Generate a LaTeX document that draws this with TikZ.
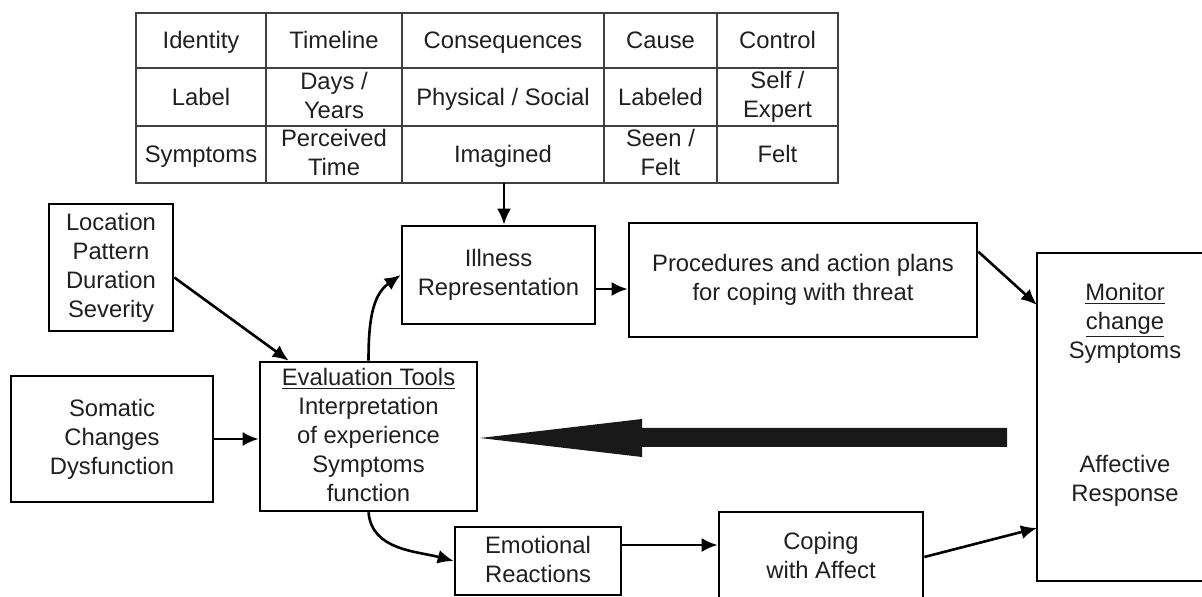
\documentclass[tikz,border=0pt]{standalone}
\usepackage{fontspec}
\setmainfont{Liberation Sans}
\usetikzlibrary{arrows.meta, positioning}
\newcommand{\htstrut}{\rule{0pt}{10.5pt}}
\newcommand{\dpstrut}{\rule[-2.1pt]{0pt}{2.1pt}}

\begin{document}
\begin{tikzpicture}[x=0.5pt, y=-0.5pt, every node/.style={font=\fontsize{11.9}{14.5}\selectfont, text=black!88, align=center, execute at begin node=\htstrut, execute at end node=\dpstrut}]

    \useasboundingbox (0,0) rectangle (1202,597);

    % --- 1. Tabelle oben (Raster und Einträge) ---
    \tikzset{tabline/.style={black!75, line width=0.8pt}}
    \draw[tabline] (136,13) rectangle (838,183);
    \foreach \xx in {266,402,604,717} \draw[tabline] (\xx,13) -- (\xx,183);
    \foreach \yy in {68,126} \draw[tabline] (136,\yy) -- (838,\yy);

    \node (t-ident) at (201,40.5) {Identity};
    \node (t-time)  at (334,40.5) {Timeline};
    \node (t-cons)  at (503,40.5) {Consequences};
    \node (t-cause) at (660.5,40.5) {Cause};
    \node (t-ctrl)  at (777.5,40.5) {Control};

    \node (t-label) at (201,97) {Label};
    \node (t-days)  at (334,97) {Days /\\Years};
    \node (t-phys)  at (503,97) {Physical / Social};
    \node (t-lab)   at (660.5,97) {Labeled};
    \node (t-self)  at (777.5,97) {Self /\\Expert};

    \node (t-symp)  at (201,154.5) {Symptoms};
    \node (t-perc)  at (334,154.5) {Perceived\\Time};
    \node (t-imag)  at (503,154.5) {Imagined};
    \node (t-seen)  at (660.5,154.5) {Seen /\\Felt};
    \node (t-felt)  at (777.5,154.5) {Felt};

    \coordinate (tabbot) at (504,183);

    % --- 2. Kästen ---
    \tikzset{blockbox/.style={draw=black, line width=1.3pt, inner sep=2pt}}
    \node[blockbox, minimum width=62pt, minimum height=63.5pt] (loc) at (111,267.5) {Location\\Pattern\\Duration\\Severity};
    \node[blockbox, minimum width=101pt, minimum height=63pt] (som) at (112,439) {Somatic\\Changes\\Dysfunction};
    \node[blockbox, minimum width=108.5pt, minimum height=74.5pt] (eval) at (368.5,436.5) {\underline{Evaluation Tools}\\Interpretation\\of experience\\Symptoms\\function};
    \node[blockbox, minimum width=96.5pt, minimum height=49pt] (ill) at (498.5,275) {Illness\\Representation};
    \node[blockbox, minimum width=174pt, minimum height=57pt] (proc) at (803,280) {Procedures and action plans\\for coping with threat};
    \node[blockbox, minimum width=83pt, minimum height=34pt] (emo) at (538,561) {Emotional\\Reactions};
    \node[blockbox, minimum width=102pt, minimum height=45pt] (cop) at (821,557) {Coping\\with Affect};

    % Monitor-Kasten läuft rechts aus dem Bild (offene Seite rechts)
    \coordinate (mon-ne) at (1202,253);
    \coordinate (mon-nw) at (1037,253);
    \coordinate (mon-sw) at (1037,581);
    \coordinate (mon-se) at (1202,581);
    \draw[line width=1.3pt] (mon-ne) -- (mon-nw) -- (mon-sw) -- (mon-se);
    \node (mon-sym) at (1125,323) {\underline{Monitor}\\\underline{change}\\Symptoms};
    \node (mon-aff) at (1125,481) {Affective\\Response};

    % --- 3. Pfeile ---
    \tikzset{connector/.style={-{Latex[length=8pt,width=7pt]}, line width=1.3pt}}
    \draw[connector] (tabbot) -- (tabbot |- ill.north);
    \draw[connector] ([yshift=-5pt]loc.east) -- ([xshift=15pt]eval.north west);
    \draw[connector] (som.east) -- (som.east -| eval.west);
    \draw[connector] (eval.north) to[out=90, in=215] (ill.west);
    \draw[connector] (eval.south) to[out=-85, in=165] (emo.west);
    \draw[connector] ([yshift=-7pt]ill.east) -- ([yshift=-7pt]ill.east -| proc.west);
    \draw[connector] ([yshift=-15pt]proc.north east) -- ([yshift=-26pt]mon-nw);
    \draw[connector] ([yshift=8pt]emo.east) -- ([yshift=8pt]emo.east -| cop.west);
    \draw[connector] (cop.east) -- ([yshift=26.5pt]mon-sw);

    % Dicker Rückkopplungspfeil (Balken mit Spitze)
    \coordinate (fb-tip) at (480,438);
    \fill[black!90] (fb-tip) -- (642,419) -- (642,428) -- (1007,428) -- (1007,447) -- (642,447) -- (642,457) -- cycle;

\end{tikzpicture}
\end{document}
